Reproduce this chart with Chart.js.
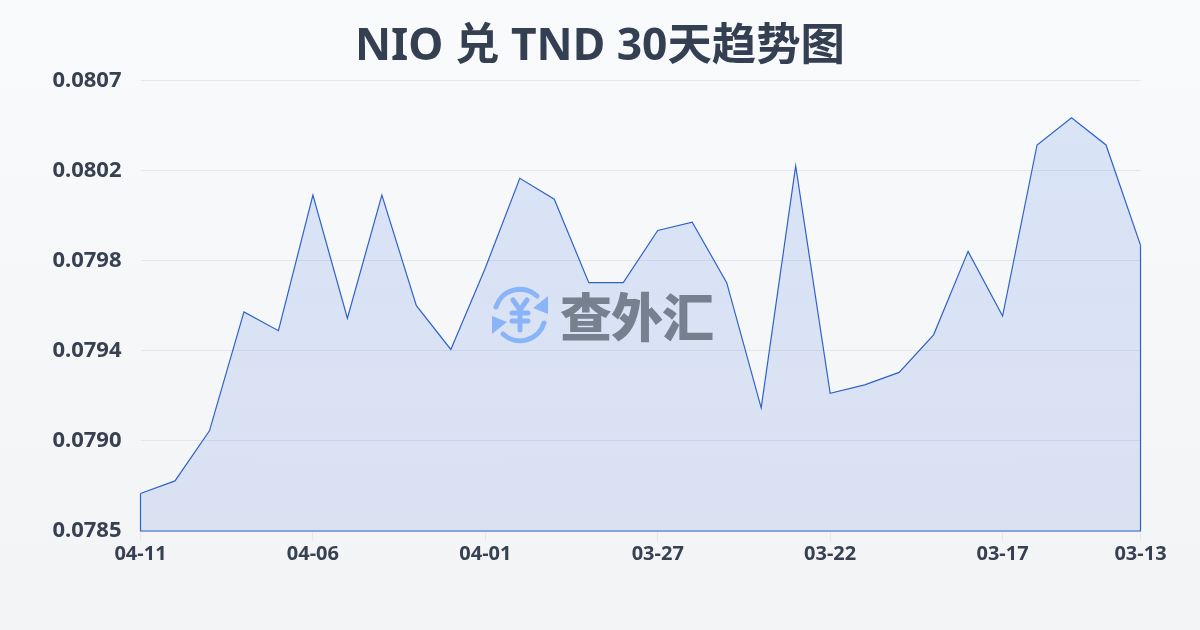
<!DOCTYPE html>
<html>
<head>
<meta charset="utf-8">
<title>NIO 兑 TND 30天趋势图</title>
<script src="https://cdn.jsdelivr.net/npm/chart.js@4/dist/chart.umd.min.js"></script>
<style>
    html, body { margin: 0; padding: 0; }
    body {
        width: 1200px;
        height: 630px;
        overflow: hidden;
        position: relative;
        background: linear-gradient(180deg, #f8fafc 0%, #f3f4f6 100%);
    }
    #rate-chart { position: absolute; left: 0; top: 0; }
    #watermark {
        position: absolute;
        left: 489px;
        top: 284px;
        display: flex;
        align-items: center;
    }
    #watermark span {
        font-family: "Noto Sans CJK SC", sans-serif;
        font-weight: 900;
        font-size: 52px;
        line-height: 62px;
        color: #76808f;
        margin-left: 9px;
        letter-spacing: -1px;
    }
</style>
</head>
<body>
<canvas id="rate-chart" width="1200" height="630"></canvas>
<div id="watermark">
    <svg width="62" height="62" viewBox="0 0 62 62" fill="none" stroke="#8ab4f8" stroke-width="5" stroke-linecap="round">
        <path d="M7 23 A25 25 0 0 1 48 12"/>
        <path d="M55 39 A25 25 0 0 1 14 50"/>
        <path d="M59 12 L59 30 L44 24 Z" fill="#8ab4f8" stroke="none"/>
        <path d="M3 50 L3 32 L18 38 Z" fill="#8ab4f8" stroke="none"/>
        <path d="M24 16 L31 26 L38 16 M31 26 L31 46 M23 29 L39 29 M23 37 L39 37"/>
    </svg>
    <span>查外汇</span>
</div>
<script>
const chartTitle = 'NIO 兑 TND 30天趋势图';

const dateLabels = [
    '04-11', '04-10', '04-09', '04-08', '04-07', '04-06', '04-05', '04-04', '04-03', '04-02',
    '04-01', '03-31', '03-30', '03-29', '03-28', '03-27', '03-26', '03-25', '03-24', '03-23',
    '03-22', '03-21', '03-20', '03-19', '03-18', '03-17', '03-16', '03-15', '03-14', '03-13'
];

const rateValues = [
    0.07870, 0.07876, 0.07900, 0.07957, 0.07948, 0.08013, 0.07954, 0.08013, 0.07960, 0.07939,
    0.07978, 0.08021, 0.08011, 0.07971, 0.07971, 0.07996, 0.08000, 0.07971, 0.07911, 0.08027,
    0.07918, 0.07922, 0.07928, 0.07946, 0.07986, 0.07955, 0.08037, 0.08050, 0.08037, 0.07989
];

const axisMin = 0.07852;
const axisMax = 0.08068;
const axisStep = 0.000432;

const textColor = '#374151';
const lineColor = '#2f62c9';

function isLabelled(index) {
    return index % 5 === 0 || index === dateLabels.length - 1;
}

// Close the outline of the area down the sides and along the bottom
const areaOutline = {
    id: 'areaOutline',
    afterDatasetsDraw(chart) {
        const x = chart.scales.x;
        const y = chart.scales.y;
        const last = rateValues.length - 1;
        const ctx = chart.ctx;
        ctx.save();
        ctx.strokeStyle = lineColor;
        ctx.lineWidth = 1.2;
        ctx.beginPath();
        ctx.moveTo(x.getPixelForValue(0), y.getPixelForValue(rateValues[0]));
        ctx.lineTo(x.getPixelForValue(0), y.bottom);
        ctx.lineTo(x.getPixelForValue(last), y.bottom);
        ctx.lineTo(x.getPixelForValue(last), y.getPixelForValue(rateValues[last]));
        ctx.stroke();
        ctx.restore();
    }
};

const ctx = document.getElementById('rate-chart').getContext('2d');

const fillGradient = ctx.createLinearGradient(0, 80, 0, 530);
fillGradient.addColorStop(0, 'rgba(66, 123, 230, 0.17)');
fillGradient.addColorStop(1, 'rgba(66, 110, 210, 0.14)');

new Chart(ctx, {
    type: 'line',
    data: {
        labels: dateLabels,
        datasets: [{
            data: rateValues,
            borderColor: lineColor,
            borderWidth: 1.2,
            backgroundColor: fillGradient,
            fill: 'start',
            tension: 0,
            pointRadius: 0
        }]
    },
    options: {
        responsive: false,
        animation: false,
        layout: { padding: { top: 0, right: 0, bottom: 63, left: 0 } },
        plugins: {
            legend: { display: false },
            tooltip: { enabled: false },
            title: {
                display: true,
                text: chartTitle,
                color: '#343f52',
                font: { family: '"Noto Sans", "Noto Sans CJK SC", sans-serif', size: 44.4, weight: 'bold' },
                padding: { top: 21, bottom: 6 }
            }
        },
        scales: {
            x: {
                offset: false,
                grid: {
                    drawOnChartArea: false,
                    tickLength: 10,
                    color(c) { return isLabelled(c.index) ? '#e8e9e6' : 'transparent'; }
                },
                border: { display: false },
                ticks: {
                    padding: 1,
                    autoSkip: false,
                    maxRotation: 0,
                    minRotation: 0,
                    color: textColor,
                    font: { family: '"Noto Sans", sans-serif', size: 20, weight: 'bold' },
                    callback(value, index) {
                        return isLabelled(index) ? dateLabels[index] : '';
                    }
                }
            },
            y: {
                min: axisMin,
                max: axisMax,
                afterFit(axis) { axis.width = 140.5; },
                grid: { color: '#e3e6ec', drawTicks: false },
                border: { display: false },
                afterBuildTicks(axis) {
                    const ticks = [];
                    for (let i = 0; i <= 5; i++) ticks.push({ value: axisMin + axisStep * i });
                    axis.ticks = ticks;
                },
                ticks: {
                    padding: 19,
                    color: textColor,
                    font: { family: '"Noto Sans", sans-serif', size: 22, weight: 'bold' },
                    callback(value) { return value.toFixed(4); }
                }
            },
            // empty axis on the right keeps the title centred on the page
            rightGap: {
                position: 'right',
                afterFit(axis) { axis.width = 59.5; },
                grid: { display: false },
                border: { display: false },
                ticks: { display: false }
            }
        }
    },
    plugins: [areaOutline]
});
</script>
</body>
</html>
